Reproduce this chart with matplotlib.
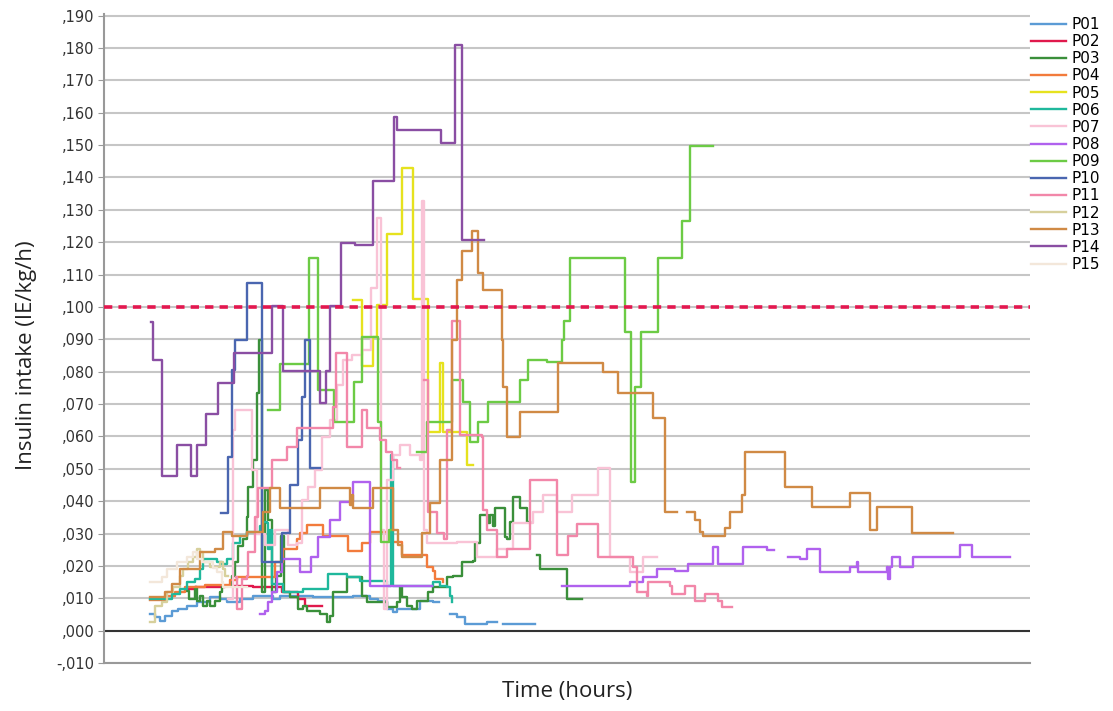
import numpy as np
import matplotlib
matplotlib.use("Agg")
import matplotlib.pyplot as plt
from matplotlib.ticker import FuncFormatter

nan = np.nan

# (time in hours, insulin IE/kg/h); nan = gap in the record
P01 = [(4.6, .0051), (5.1, .0042), (5.6, .0029), (6.1, .0045), (6.8, .0060), (7.4, .0066),
       (8.3, .0075), (9.3, .0088), (10.6, .0103), (11.6, .0097), (12.3, .0088), (13.6, .0097),
       (14.9, .0106), (16.6, .0106), (16.9, .0097), (17.6, .0106), (20.9, .0103), (24.9, .0106),
       (26.6, .0097), (27.4, .0091), (28.3, .0066), (28.9, .0057), (29.3, .0066), (31.6, .0091),
       (32.9, .0088), (33.5, nan), (34.6, .0051), (35.3, .0042), (36.1, .0020), (37.6, .0020),
       (38.3, .0026), (39.3, nan), (39.9, .0020), (43.1, .0020)]
P02 = [(8.1, .0128), (9.1, .0134), (12.1, .0137), (14.9, .0134), (17.8, .0118), (19.4, .0097),
       (20.1, .0075), (21.8, .0075)]
P03 = [(8.2, .0122), (8.5, .0097), (9.1, .0134), (9.3, .0091), (9.6, .0106), (9.9, .0075),
       (10.3, .0091), (10.6, .0075), (11.1, .0091), (11.6, .0118), (11.8, .0137), (12.8, .0168),
       (13.1, .0211), (13.4, .0260), (13.9, .0282), (14.3, .0352), (14.4, .0445), (14.9, .0528),
       (15.3, .0734), (15.5, .0897), (15.8, .0118), (16.1, .0435), (16.4, .0343), (16.8, .0118),
       (17.2, .0168), (17.7, .0291), (18.0, .0118), (18.6, .0103), (19.4, .0066), (19.9, .0075),
       (20.3, .0060), (21.6, .0051), (22.3, .0026), (22.6, .0045), (22.9, .0118), (24.3, .0165),
       (25.8, .0106), (26.3, .0088), (28.3, .0072), (29.3, .0088), (29.6, .0134), (29.8, .0103),
       (30.3, .0075), (30.8, .0066), (31.3, .0091), (32.4, .0118), (32.9, .0134), (34.3, .0165),
       (34.9, .0168), (35.8, .0211), (36.9, .0214), (37.1, .0272), (37.6, .0358), (38.4, .0334),
       (38.6, .0358), (38.9, .0322), (39.1, .0380), (40.1, .0288), (40.3, .0282), (40.6, .0337),
       (40.9, .0414), (41.6, .0380), (42.3, .0337), (42.6, nan), (43.3, .0235), (43.6, .0189),
       (46.3, .0097), (47.8, .0097)]
P04 = [(4.6, .0094), (6.1, .0106), (7.1, .0118), (8.1, .0134), (10.1, .0140), (12.6, .0155),
       (13.3, .0165), (17.1, .0211), (17.9, .0251), (19.3, .0282), (19.6, .0303), (20.3, .0325),
       (21.9, .0291), (24.4, .0245), (25.8, .0272), (26.6, .0306), (28.6, .0275), (29.8, .0235),
       (32.3, .0198), (32.9, .0183), (33.1, .0158), (33.9, .0149)]
P05 = [(24.9, .1020), (25.8, .0817), (26.9, .0906), (27.3, .1005), (28.3, .1226), (29.8, .1429),
       (30.9, .1026), (32.4, .0614), (33.6, .0826), (33.9, .0614), (36.3, .0512), (36.9, .0512)]
P06 = [(4.6, .0097), (5.9, .0097), (6.8, .0112), (7.6, .0128), (8.3, .0149), (9.1, .0158),
       (9.6, .0189), (9.9, .0220), (11.3, .0211), (11.8, .0205), (12.3, .0220), (12.9, .0272),
       (13.6, .0291), (14.3, .0306), (15.6, .0322), (15.9, .0337), (16.3, .0334), (16.4, .0251),
       (16.6, .0312), (16.8, .0143), (17.9, .0118), (19.9, .0128), (22.4, .0174), (24.3, .0165),
       (25.6, .0152), (28.3, .0137), (28.7, .0543), (28.9, .0137), (32.9, .0149), (33.6, .0137),
       (34.3, .0134), (34.6, .0106), (34.8, .0088)]
P07 = [(12.4, .0097), (12.9, .0620), (13.1, .0682), (14.5, .0682), (14.8, .0497), (15.3, .0297),
       (16.1, .0266), (17.1, .0312), (18.4, .0266), (19.3, .0272), (19.8, .0405), (20.4, .0445),
       (21.1, .0497), (21.8, .0598), (22.6, .0651), (23.3, .0758), (23.9, .0835), (24.8, .0851),
       (25.8, .0866), (26.7, .1060), (27.3, .1275), (27.7, .0312), (28.0, .0066), (28.3, .0466),
       (28.9, .0543), (29.6, .0574), (30.6, .0543), (31.6, .0528), (31.8, .1328), (32.0, .0312),
       (32.3, .0272), (35.3, .0275), (37.3, .0226), (39.3, .0251), (40.9, .0334), (42.9, .0365),
       (43.9, .0420), (45.3, .0365), (46.8, .0420), (49.4, .0503), (50.6, .0226), (52.6, .0180),
       (53.9, .0226), (55.3, .0226)]
P08 = [(15.6, .0051), (16.1, .0060), (16.4, .0088), (16.8, .0118), (17.3, .0180), (17.8, .0220),
       (19.6, .0180), (20.7, .0229), (21.4, .0288), (22.6, .0343), (23.6, .0398), (24.9, .0460),
       (26.6, .0137), (32.8, nan), (45.8, .0137), (52.6, .0149), (53.9, .0165), (55.3, .0189),
       (57.1, .0183), (58.4, .0205), (60.9, .0257), (61.4, .0205), (63.9, .0257), (66.3, .0248),
       (67.0, nan), (68.4, .0229), (69.6, .0220), (70.3, .0251), (71.6, .0180), (74.6, .0198),
       (75.3, .0211), (75.4, .0180), (78.3, .0198), (78.4, .0158), (78.6, .0198), (78.8, .0226),
       (79.6, .0198), (80.9, .0226), (85.6, .0266), (86.8, .0226), (90.6, .0226)]
P09 = [(16.4, .0682), (17.6, .0823), (20.5, .1152), (21.4, .0743), (23.0, .0645), (25.0, .0768),
       (25.8, .0906), (27.4, .0645), (27.7, .0275), (28.5, .0312), (28.9, nan),
       (31.3, .0552), (32.3, .0645), (34.8, .0774), (35.9, .0706), (36.6, .0583), (37.4, .0645),
       (38.4, .0706), (41.6, .0774), (42.4, .0835), (44.3, .0829), (45.8, .0897), (46.0, .0958),
       (46.6, .1152), (52.1, .0922), (52.7, .0460), (53.1, .0752), (53.7, .0922), (55.4, .1152),
       (57.8, .1266), (58.6, .1497), (60.9, .1497)]
P10 = [(11.7, .0362), (12.4, .0537), (12.8, .0805), (13.1, .0897), (14.3, .1075), (15.8, .0211),
       (17.8, .0303), (18.6, .0451), (19.4, .0589), (19.8, .0722), (20.1, .0897), (20.6, .0503),
       (21.6, .0503)]
P11 = [(13.2, .0165), (13.3, .0066), (13.8, .0158), (14.3, .0168), (14.4, .0242), (15.1, .0352),
       (15.4, .0442), (16.8, .0528), (18.3, .0568), (19.3, .0626), (22.9, .0691), (23.2, .0857),
       (24.3, .0568), (25.8, .0682), (26.3, .0626), (27.6, .0589), (28.2, .0552), (28.8, .0528),
       (29.3, .0503), (29.6, nan), (32.0, .0774), (32.4, .0365), (33.3, .0303), (34.0, .0282),
       (34.3, .0620), (34.8, .0958), (35.6, .0605), (37.8, .0598), (37.9, .0374), (38.3, .0312),
       (39.3, .0229), (40.3, .0251), (42.6, .0466), (45.3, .0235), (46.4, .0291), (47.3, .0328),
       (49.4, .0229), (52.9, .0198), (53.3, .0118), (54.3, .0106), (54.4, .0149), (56.6, .0137),
       (56.8, .0112), (58.1, .0137), (59.1, .0091), (60.1, .0112), (61.4, .0091), (61.8, .0072),
       (62.8, .0072)]
P12 = [(4.6, .0026), (5.1, .0075), (5.8, .0088), (6.3, .0118), (6.9, .0134), (7.6, .0168),
       (7.9, .0189), (8.4, .0211), (8.9, .0229), (9.3, .0251), (9.6, .0242), (9.9, .0211),
       (10.6, .0198), (11.6, .0211), (11.9, .0189), (12.1, .0168), (12.4, .0168)]
P13 = [(4.6, .0103), (6.1, .0118), (6.8, .0143), (7.6, .0189), (9.6, .0242), (11.1, .0251),
       (11.9, .0306), (12.8, .0291), (14.3, .0306), (15.9, .0368), (16.6, .0442), (17.6, .0380),
       (21.6, .0442), (24.6, .0389), (24.8, .0420), (24.9, .0380), (26.9, .0442), (28.9, .0312),
       (29.4, .0266), (29.8, .0229), (31.8, .0303), (32.6, .0395), (33.6, .0528), (34.8, .0897),
       (35.3, .1082), (35.8, .1174), (36.8, .1235), (37.4, .1106), (37.9, .1051), (39.8, .0897),
       (39.9, .0752), (40.3, .0598), (41.6, .0675), (45.4, .0826), (49.9, .0798), (51.4, .0734),
       (54.9, .0657), (56.1, .0365), (57.3, nan), (58.3, .0365), (59.1, .0343), (59.6, .0306),
       (59.9, .0291), (62.1, .0318), (62.6, .0365), (63.8, .0420), (64.1, .0552), (68.1, .0445),
       (70.8, .0383), (74.6, .0426), (76.6, .0312), (77.3, .0383), (80.8, .0303), (84.9, .0303)]
P14 = [(4.7, .0952), (4.9, .0835), (5.8, .0478), (7.3, .0574), (8.7, .0478), (9.3, .0574),
       (10.2, .0669), (11.4, .0765), (13.0, .0857), (16.8, .1002), (17.9, .0802), (21.6, .0703),
       (22.2, .0802), (22.6, .1002), (23.7, .1198), (25.1, .1192), (26.9, .1389), (29.0, .1586),
       (29.3, .1546), (33.7, .1506), (35.1, .1810), (35.8, .1208), (38.0, .1208)]
P15 = [(4.6, .0149), (5.4, .0149), (5.8, .0165), (6.3, .0189), (7.3, .0211), (8.3, .0229),
       (8.9, .0242), (9.3, .0220), (9.8, .0211), (10.9, .0195), (11.3, .0180), (11.8, .0149),
       (11.9, .0134), (14.3, .0134)]

patients = ["P01", "P02", "P03", "P04", "P05", "P06", "P07", "P08",
            "P09", "P10", "P11", "P12", "P13", "P14", "P15"]
series = [P01, P02, P03, P04, P05, P06, P07, P08, P09, P10, P11, P12, P13, P14, P15]
colors = ["#5b9bd5", "#e0194c", "#3a8f3a", "#f27b3c", "#e6e21e", "#1fb89c", "#f9c3d6",
          "#b061ee", "#6ccb45", "#4a66b0", "#f287a9", "#d7d09c", "#d08a45", "#8a4ea3", "#f3e7da"]
limit = 0.100

fig = plt.figure(figsize=(11.13, 7.11), dpi=100)
ax = fig.add_axes([104 / 1113, 1 - 663 / 711, 926 / 1113, 649 / 711])

yt = np.round(np.arange(-0.01, 0.1901, 0.01), 3)
ax.set_yticks(yt)
ax.yaxis.grid(True, color="#c6c6c6", lw=1.5)
ax.set_axisbelow(True)
ax.axhline(0, color="#333333", lw=1.5, zorder=1)

handles = []
for name, data, c in zip(patients, series, colors):
    t, v = zip(*data)
    ln, = ax.plot(t, v, drawstyle="steps-post", color=c, lw=1.7, label=name)
    handles.append(ln)

ax.axhline(limit, color="#e3174f", lw=2.6, ls=(0, (2.3, 1.7)), zorder=5)

ax.set_xlim(0, 92.6)
ax.set_ylim(-0.010, 0.1905)
ax.set_xticks([])
ax.yaxis.set_major_formatter(FuncFormatter(lambda v, _: f"{v:.3f}".replace("0.", ",", 1)))
ax.tick_params(axis="y", length=4, color="#999999", labelsize=10.5, labelcolor="#333333", pad=3)
for s in ("top", "right"):
    ax.spines[s].set_visible(False)
for s in ("left", "bottom"):
    ax.spines[s].set_color("#999999")
    ax.spines[s].set_linewidth(1.5)

fig.text(567 / 1113, 1 - 691 / 711, "Time (hours)", ha="center", va="center",
         family="Open Sans", fontsize=16, color="#222222")
fig.text(27 / 1113, 1 - 355 / 711, "Insulin intake (IE/kg/h)", ha="center", va="center",
         rotation=90, family="Open Sans", fontsize=16, color="#222222")

fig.legend(handles=handles, loc="upper left", bbox_to_anchor=(1031 / 1113, 1 - 17 / 711),
           frameon=False, fontsize=11, labelspacing=0.14, handlelength=2.3,
           handletextpad=0.35, borderpad=0, borderaxespad=0)

fig.savefig("out.png", dpi=100)
